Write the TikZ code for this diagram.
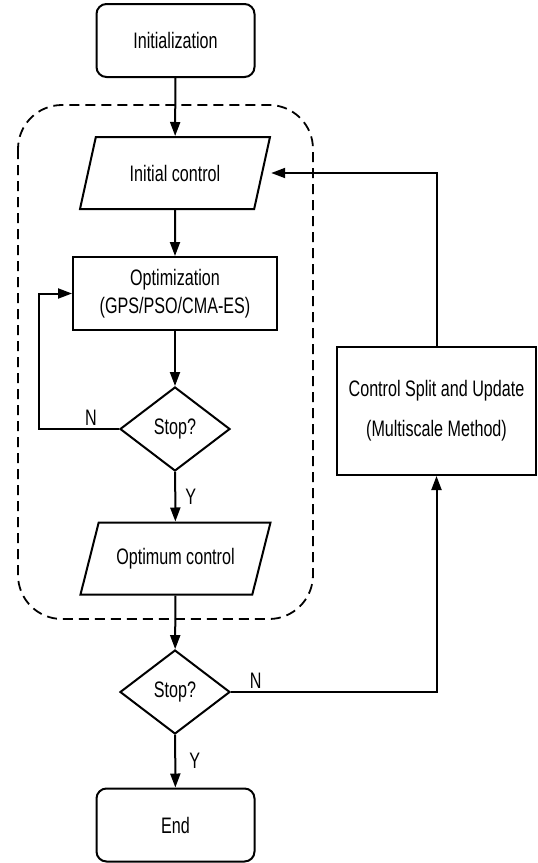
\documentclass[tikz,border=0pt]{standalone}
\usepackage{fontspec}
\setmainfont[FakeStretch=0.72]{Liberation Sans}
\usetikzlibrary{shapes.geometric,arrows.meta,positioning}
\newcommand{\chartfont}{\fontsize{11.2}{14}\selectfont}
\tikzset{
  terminal/.style={rectangle, rounded corners=5pt, draw=black, line width=1pt,
                   minimum width=79pt, minimum height=36.5pt, font=\chartfont},
  iobox/.style={trapezium, trapezium left angle=62, trapezium right angle=118,
                trapezium stretches body, draw=black, line width=1pt,
                minimum width=95pt, minimum height=36pt, font=\chartfont},
  process/.style={rectangle, draw=black, line width=1pt, align=center,
                  minimum width=102pt, minimum height=36.5pt, font=\chartfont},
  decision/.style={diamond, aspect=1.3, draw=black, line width=1pt, inner sep=0pt,
                   minimum width=55pt, minimum height=42pt, font=\chartfont},
  flow/.style={-{Triangle[length=7pt,width=5pt]}, line width=1pt, black},
  edgelbl/.style={font=\chartfont, inner sep=1.5pt},
}

\begin{document}
\begin{tikzpicture}[x=0.5pt, y=-0.5pt]

%% Canvas
\useasboundingbox (0,0) rectangle (537,863);

%% Inner optimization loop (dashed frame)
\draw[dash pattern=on 5pt off 3pt, line width=0.9pt, rounded corners=22pt]
     (18,105) rectangle (313,619);

%% Nodes
\node[terminal] (init)   at (175.5,40.5) {Initialization};
\node[iobox]    (initc)  at (175,173)    {Initial control};
\node[process]  (opt)    at (175,293.5)  {Optimization\\(GPS/PSO/CMA-ES)};
\node[decision] (stopA)  at (175,429)    {\raisebox{-2pt}{Stop?}};
\node[iobox]    (optc)   at (175.5,558.5){Optimum control};
\node[decision] (stopB)  at (175,692)    {\raisebox{-2pt}{Stop?}};
\node[terminal] (finish) at (175.5,825)  {End};
\node[process, minimum width=99.5pt, minimum height=64pt]
     (split) at (436.5,411) {Control Split and Update\\[6pt](Multiscale Method)};

%% ── main column ──────────────────────────────────────────────
\draw[flow] (init) -- (initc);
\draw[flow] (initc) -- (opt);
\draw[flow] (opt) -- (stopA);
\draw[flow] (stopA) -- node[edgelbl, right, xshift=3pt]{Y} (optc);
\draw[flow] (optc) -- (stopB);
\draw[flow] (stopB) -- node[edgelbl, right, xshift=5pt]{Y} (finish);

%% ── inner loop: N back to optimization ──────────────────────
\draw[flow] (stopA.west) -- ++(-80,0) node[edgelbl, pos=0.35, above]{N} |- (opt.west);

%% ── outer loop: N to split, then back to initial control ────
\draw[flow] (stopB.east) -| node[edgelbl, pos=0.06, above]{N} (split.south);
\draw[flow] (split.north) |- (initc.top right corner |- initc.center);

\end{tikzpicture}
\end{document}
